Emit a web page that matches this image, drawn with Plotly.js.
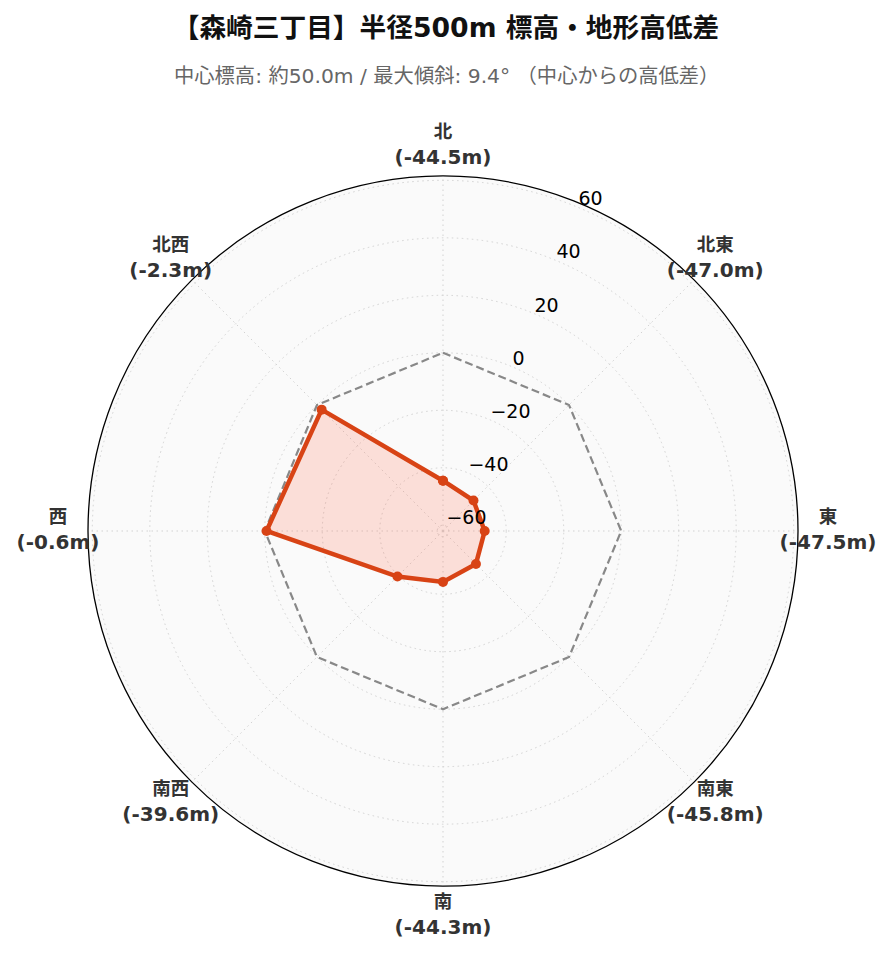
<!DOCTYPE html>
<html>
<head>
<meta charset="utf-8">
<script src="https://cdn.plot.ly/plotly-3.0.1.min.js"></script>
<style>html,body{margin:0;padding:0;background:#fff;}</style>
</head>
<body>
<div id="chart" style="width:892px;height:962px;"></div>
<script>
const directions = ['北', '北東', '東', '南東', '南', '南西', '西', '北西'];
const elevDiff = [-44.5, -47.0, -47.5, -45.8, -44.3, -39.6, -0.6, -2.3];
const baseline = [0, 0, 0, 0, 0, 0, 0, 0];
const radialTicks = [-60, -40, -20, 0, 20, 40, 60];
const radialRange = [-62, 61.5];

const FONT = 'DejaVu Sans, Noto Sans CJK JP, sans-serif';
const labels = directions.map((d, i) =>
  '<b><span style="font-size:18.5px">' + d + '</span><br>(' + elevDiff[i].toFixed(1) + 'm)</b>');
const closeArr = a => a.concat([a[0]]);

// geometry of the plot (pixels)
const W = 892, H = 962, CX = 443, CY = 531, R = 355, RL = 400, LABEL_FRAC = 385 / 400;
// radial tick labels are padded up-left of the axis, like matplotlib's label pad
const PAD_X = -8, PAD_Y = -15;
const dom = (rad, dx = 0, dy = 0) => ({
  x: [(CX + dx - rad) / W, (CX + dx + rad) / W],
  y: [(H - CY - dy - rad) / H, (H - CY - dy + rad) / H]
});

const traces = [
  {
    type: 'scatterpolar',
    r: closeArr(baseline),
    theta: closeArr(directions),
    mode: 'lines',
    line: {color: '#888888', width: 2.2, dash: '8px,4px'},
    hoverinfo: 'skip',
    showlegend: false
  },
  {
    type: 'scatterpolar',
    r: closeArr(elevDiff),
    theta: closeArr(directions),
    mode: 'lines+markers',
    fill: 'toself',
    fillcolor: 'rgba(255,110,80,0.2)',
    line: {color: '#d84315', width: 4.5},
    marker: {color: '#d84315', size: 10},
    showlegend: false
  },
  {
    type: 'scatterpolar',
    subplot: 'polar2',
    r: directions.map(() => LABEL_FRAC),
    theta: directions,
    mode: 'text',
    text: labels,
    textposition: 'middle center',
    textfont: {size: 20, color: '#333333', family: FONT},
    cliponaxis: false,
    hoverinfo: 'skip',
    showlegend: false
  },
  {
    type: 'scatterpolar',
    subplot: 'polar3',
    r: [],
    theta: [],
    mode: 'markers',
    hoverinfo: 'skip',
    showlegend: false
  }
];

const gridStyle = {showgrid: true, gridcolor: '#d2d2d2', griddash: '1.5px,3.5px', gridwidth: 1};
const hiddenAngular = {
  type: 'category', categoryarray: directions, direction: 'clockwise', rotation: 90,
  showline: false, showgrid: false, showticklabels: false, ticks: ''
};

const layout = {
  width: W,
  height: H,
  margin: {l: 0, r: 0, t: 0, b: 0},
  paper_bgcolor: '#ffffff',
  font: {family: FONT},
  title: {
    text: '<b>【森崎三丁目】半径500m 標高・地形高低差</b>',
    x: 0.5, xanchor: 'center',
    y: 1 - 28 / H, yanchor: 'middle', yref: 'container',
    font: {size: 26.7, color: '#111111', family: FONT}
  },
  annotations: [{
    text: '中心標高: 約50.0m / 最大傾斜: 9.4° （中心からの高低差）',
    xref: 'paper', yref: 'paper', x: 0.5, y: 1 - 76 / H,
    xanchor: 'center', yanchor: 'middle', showarrow: false,
    font: {size: 20.3, color: '#666666', family: FONT}
  }],
  polar: {
    domain: dom(R),
    bgcolor: '#fafafa',
    angularaxis: Object.assign({
      type: 'category',
      categoryarray: directions,
      direction: 'clockwise',
      rotation: 90,
      showline: true,
      linecolor: '#000000',
      linewidth: 1.3,
      ticks: '',
      showticklabels: false
    }, gridStyle),
    radialaxis: Object.assign({
      range: radialRange,
      tickvals: radialTicks,
      angle: 67.5,
      showline: false,
      ticks: '',
      showticklabels: false
    }, gridStyle)
  },
  polar2: {
    domain: dom(RL),
    bgcolor: 'rgba(0,0,0,0)',
    angularaxis: hiddenAngular,
    radialaxis: {range: [0, 1], visible: false, showline: false, showgrid: false, showticklabels: false, ticks: ''}
  },
  polar3: {
    domain: dom(R, PAD_X, PAD_Y),
    bgcolor: 'rgba(0,0,0,0)',
    angularaxis: hiddenAngular,
    radialaxis: {
      range: radialRange,
      tickvals: radialTicks,
      ticktext: radialTicks.map(v => v < 0 ? '\u2212' + Math.abs(v) : String(v)),
      angle: 67.5,
      side: 'clockwise',
      tickangle: 67.5,
      showline: false,
      showgrid: false,
      ticks: '',
      tickfont: {size: 19, color: '#000000', family: FONT}
    }
  }
};

Plotly.newPlot('chart', traces, layout, {displayModeBar: false, staticPlot: true});
</script>
</body>
</html>
